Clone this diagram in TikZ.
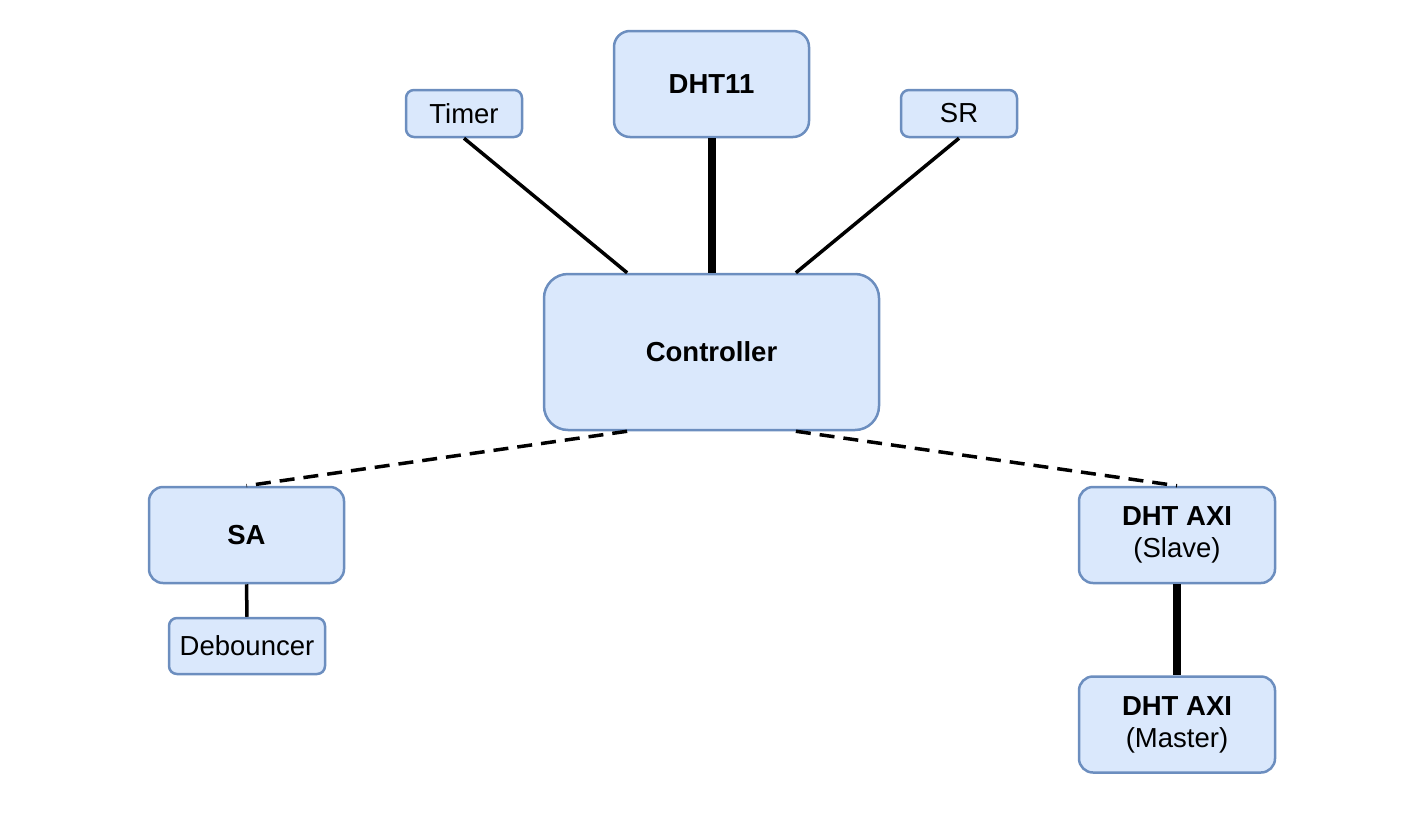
\documentclass[tikz,border=0pt]{standalone}
\usepackage{fontspec}
\setmainfont{Liberation Sans}
\usetikzlibrary{calc}
\definecolor{boxfill}{HTML}{DAE8FC}
\definecolor{boxline}{HTML}{6C8EBF}
\tikzset{
  block/.style={draw=boxline, fill=boxfill, line width=2.5pt, rounded corners=#1,
    inner sep=0pt, align=center, font=\fontsize{27.5}{32}\selectfont},
  block/.default=8pt,
  wire/.style={line width=3.5pt},
  bus/.style={line width=8pt},
  link/.style={line width=3.5pt, dash pattern=on 15pt off 9pt}
}
\begin{document}
\begin{tikzpicture}[x=1pt, y=-1pt]
    \useasboundingbox (0, 0) rectangle (1420, 819);
    \node[block=16pt, minimum width=195pt, minimum height=106pt] (dht) at (711.5, 84) {\textbf{DHT11}};
    \node[block, minimum width=116pt, minimum height=47pt] (timer) at (464, 113.5) {Timer};
    \node[block, minimum width=116pt, minimum height=47pt] (sr) at (959, 113.5) {SR};
    \node[block=24pt, minimum width=335pt, minimum height=156pt] (ctrl) at (711.5, 352) {\textbf{Controller}};
    \node[block=14pt, minimum width=195pt, minimum height=96pt] (sa) at (246.5, 535) {\textbf{SA}};
    \node[block, minimum width=156pt, minimum height=56pt] (deb) at (247, 646) {Debouncer};
    \node[block=14pt, minimum width=196pt, minimum height=96pt] (slave) at (1177, 535) {\textbf{DHT AXI}\\(Slave)};
    \node[block=14pt, minimum width=196pt, minimum height=96pt] (master) at (1177, 724.5) {\textbf{DHT AXI}\\(Master)};
    \coordinate (ctrlnw) at ($(ctrl.north west)!0.25!(ctrl.north east)$);
    \coordinate (ctrlne) at ($(ctrl.north west)!0.75!(ctrl.north east)$);
    \coordinate (ctrlsw) at ($(ctrl.south west)!0.25!(ctrl.south east)$);
    \coordinate (ctrlse) at ($(ctrl.south west)!0.75!(ctrl.south east)$);
    \draw[wire] (timer.south) -- (ctrlnw);
    \draw[bus] (dht.south) -- (ctrl.north);
    \draw[wire] (sr.south) -- (ctrlne);
    \draw[link] (ctrlsw) -- (sa.north);
    \draw[link] (ctrlse) -- (slave.north);
    \draw[wire] (sa.south) -- (deb.north);
    \draw[bus] (slave.south) -- (master.north);
  \end{tikzpicture}
\end{document}
